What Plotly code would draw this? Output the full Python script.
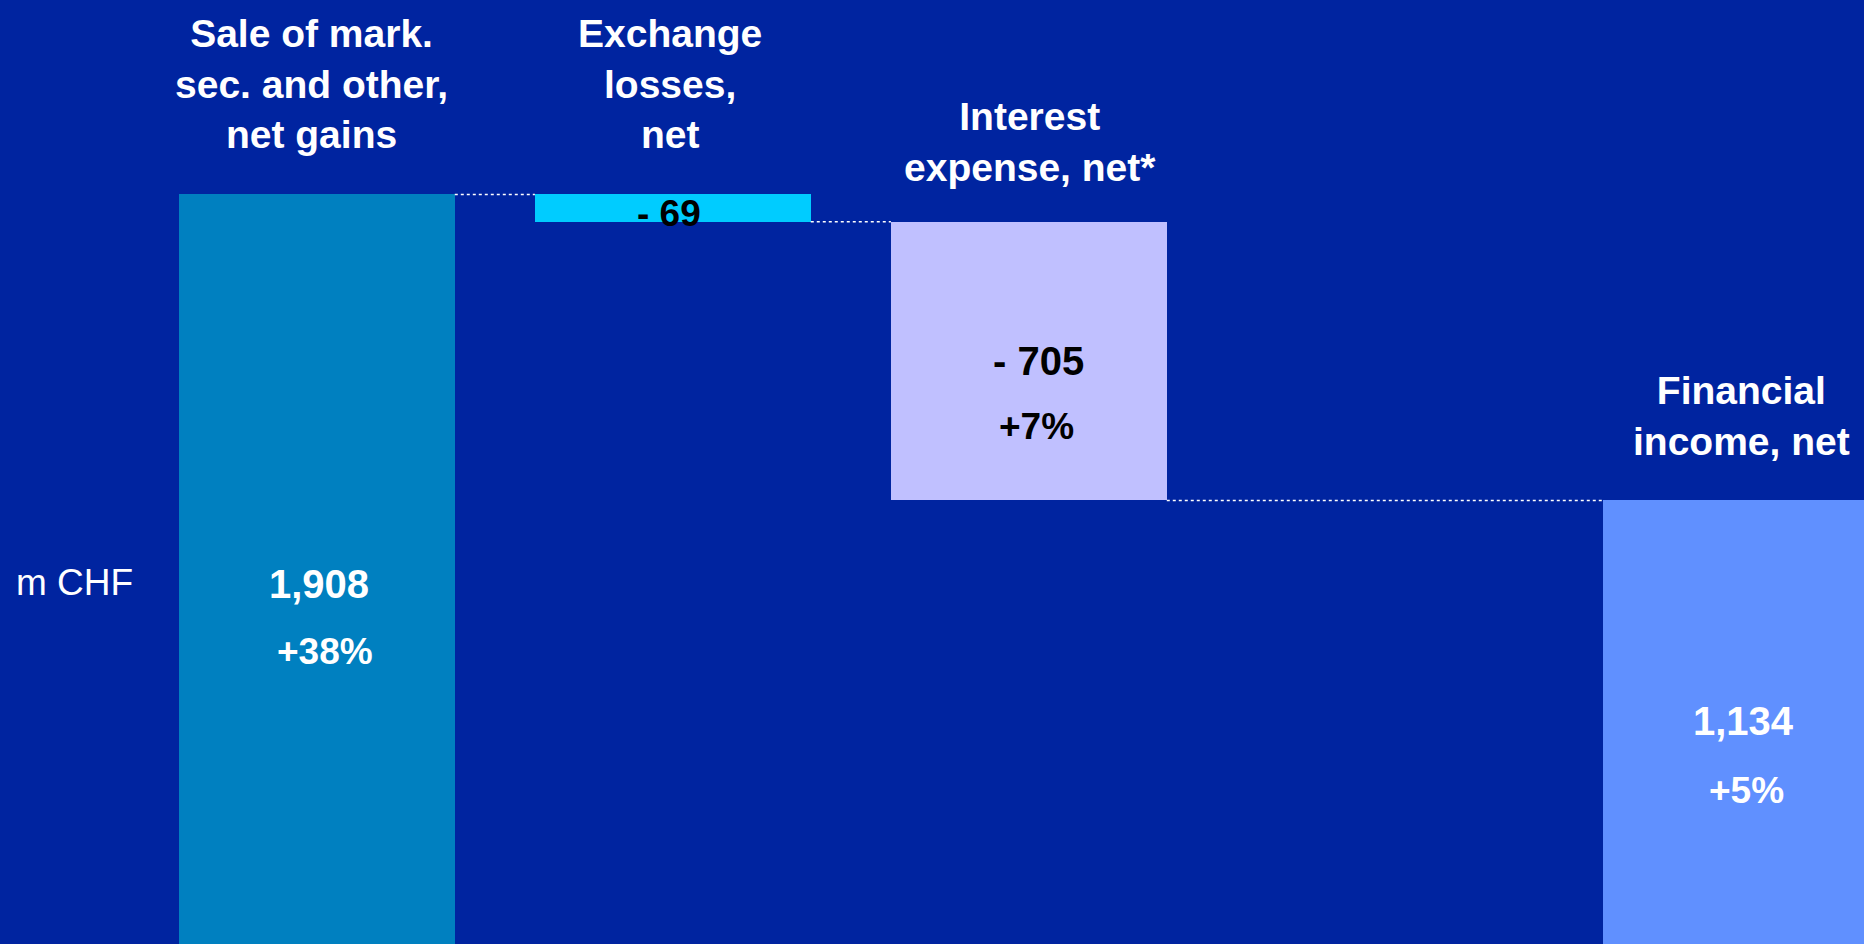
import plotly.graph_objects as go

# Waterfall of financial income components (m CHF)
categories = ["Sale of mark.<br>sec. and other,<br>net gains",
              "Exchange<br>losses,<br>net",
              "Interest<br>expense, net*",
              "Financial<br>income, net"]
positions = [0, 1, 2, 4]          # slot 3 is left empty before the total
values = [1908, -69, -705, 1134]
kinds = ["absolute", "relative", "relative", "total"]
changes = ["+38%", None, "+7%", "+5%"]
value_texts = ["1,908", "- 69", "- 705", "1,134"]
bar_colors = ["#0080C0", "#00CCFF", "#C0C0FF", "#6090FF"]
label_colors = ["white", "black", "black", "white"]
unit_label = "m CHF"

BG = "#0024A0"
W, H = 1864, 944
BAR_W = 0.775
FONT = "Liberation Sans, Arial, sans-serif"

# running totals -> bar bases and heights
bases, heights, levels = [], [], []
running = 0
for v, k in zip(values, kinds):
    if k == "absolute":
        bases.append(0); heights.append(v); running = v
    elif k == "relative":
        new = running + v
        bases.append(min(running, new)); heights.append(abs(v)); running = new
    else:
        bases.append(0); heights.append(running)
    levels.append(running)

fig = go.Figure(go.Bar(
    x=positions, y=heights, base=bases, width=BAR_W,
    marker=dict(color=bar_colors, line=dict(width=0)),
    hoverinfo="skip",
))

# dotted connectors between consecutive bars
for i in range(len(positions) - 1):
    fig.add_shape(type="line", xref="x", yref="y",
                  x0=positions[i] + BAR_W / 2, x1=positions[i + 1] - BAR_W / 2,
                  y0=levels[i], y1=levels[i],
                  line=dict(color="white", width=1.5, dash="dot"))


def py(pixel_y):
    return 1 - pixel_y / H


# category titles above the bars
title_y = [84, 84, 142, 416]
title_dx = [-5, -2.5, 1, 1]
for pos, txt, y, dx in zip(positions, categories, title_y, title_dx):
    fig.add_annotation(x=pos, xref="x", y=py(y), yref="paper", xshift=dx,
                       text=txt, showarrow=False, xanchor="center", yanchor="middle",
                       align="center",
                       font=dict(family=FONT, size=39, color="white", weight="bold"))

# value labels
value_y = [584, 213, 361, 721]
value_dx = [2, -4, 10, 3]
value_size = [40, 37, 40, 40]
for pos, txt, y, dx, c, s in zip(positions, value_texts, value_y, value_dx, label_colors, value_size):
    fig.add_annotation(x=pos, xref="x", y=py(y), yref="paper", xshift=dx,
                       text=txt, showarrow=False, xanchor="center", yanchor="middle",
                       font=dict(family=FONT, size=s, color=c, weight="bold"))

# year-on-year change labels
change_y = [651, None, 426, 790]
change_dx = [8, 0, 8, 6]
for pos, txt, y, dx, c in zip(positions, changes, change_y, change_dx, label_colors):
    if txt is None:
        continue
    fig.add_annotation(x=pos, xref="x", y=py(y), yref="paper", xshift=dx,
                       text=txt, showarrow=False, xanchor="center", yanchor="middle",
                       font=dict(family=FONT, size=37, color=c, weight="bold"))

# unit label
fig.add_annotation(x=14 / W, xref="paper", y=py(582), yref="paper",
                   text=unit_label, showarrow=False, xanchor="left", yanchor="middle",
                   font=dict(family=FONT, size=37, color="white"))

fig.update_layout(
    width=W, height=H,
    margin=dict(l=0, r=0, t=0, b=0),
    paper_bgcolor=BG, plot_bgcolor=BG,
    showlegend=False,
    xaxis=dict(range=[-0.890, 4.346], visible=False, fixedrange=True),
    yaxis=dict(range=[12, 2400], visible=False, fixedrange=True),
    bargap=0,
)

fig.write_html("out.html")
